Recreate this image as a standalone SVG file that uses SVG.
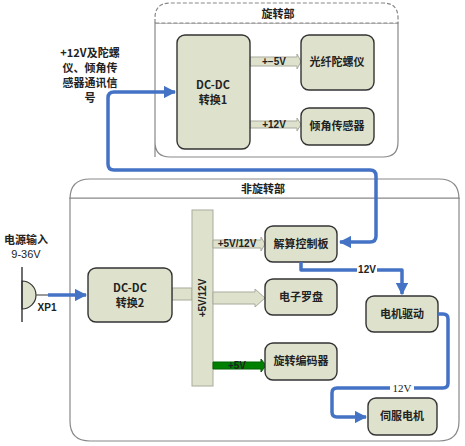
<svg xmlns="http://www.w3.org/2000/svg" width="465" height="446" viewBox="0 0 465 446">
<defs>
<style>
.box{fill:#dee2cd;stroke:#333;stroke-width:1.4}
.band{fill:#dee2cd;stroke:#a8ab9c;stroke-width:1}
.t{font-family:"Noto Sans CJK SC","Liberation Sans",sans-serif;font-size:11px;font-weight:bold;fill:#222;text-anchor:middle}
.s{font-family:"Liberation Sans","Noto Sans CJK SC",sans-serif;font-size:10px;font-weight:bold;fill:#222;text-anchor:middle}
.blue{fill:none;stroke:#4472c4;stroke-width:3.5;stroke-linejoin:round}
.cont{fill:#fff;stroke:#888;stroke-width:1.2}
</style>
<marker id="ah" viewBox="0 0 10 10" refX="9" refY="5" markerWidth="3.5" markerHeight="3.5" orient="auto-start-reverse" markerUnits="strokeWidth">
<path d="M0,0 L10,5 L0,10 z" fill="#4472c4"/>
</marker>
</defs>
<rect width="465" height="446" fill="#fff"/>

<g id="rotating">
<path d="M155,157 L155,23 L398,23 L398,142 Q398,157 383,157 L170,157 Q155,157 155,142 Z" class="cont"/>
<path d="M155,23 L155,18 Q155,3 170,3 L383,3 Q398,3 398,18 L398,23 Z" fill="#fff" stroke="#888" stroke-width="1.2" stroke-dasharray="4,2"/>
<text x="278" y="18" class="t">旋转部</text>
</g>

<g id="nonrotating">
<path d="M70,198 L459,198 L459,421 Q459,441 439,441 L90,441 Q70,441 70,421 Z" class="cont"/>
<path d="M70,198 L70,199 Q70,179 90,179 L439,179 Q459,179 459,199 L459,198 Z" fill="#fff" stroke="#888" stroke-width="1.2"/>
<text x="263" y="193" class="t">非旋转部</text>
</g>

<g id="bands">
<polygon points="250,57 297,57 297,54 301,61.5 297,69 297,66 250,66" class="band"/>
<text x="274" y="65" class="s">+−5V</text>
<polygon points="250,121 297,121 297,118 301,124.5 297,131 297,128 250,128" class="band"/>
<text x="274" y="128" class="s">+12V</text>
<rect x="172" y="288" width="20" height="12" class="band"/>
<rect x="192" y="210" width="21" height="176" class="band"/>
<text x="0" y="0" class="s" transform="translate(206,298) rotate(-90)">+5V/12V</text>
<polygon points="213,240 261,240 261,237 265,244 261,251 261,248 213,248" class="band"/>
<text x="237" y="247" class="s">+5V/12V</text>
<polygon points="213,292 255,292 255,289 265,298 255,307 255,304 213,304" class="band"/>
<polygon points="213,362 261,362 261,359 266,365.5 261,372 261,369 213,369" fill="#008000" stroke="#006000" stroke-width="1"/>
<text x="237" y="369" class="s">+5V</text>
</g>

<g id="dcdc1"><rect x="177" y="35" width="73" height="114" rx="8" class="box"/>
<text x="213" y="89" class="t">DC-DC</text><text x="213" y="104" class="t">转换1</text></g>
<g id="gyro"><rect x="301" y="35" width="73" height="55" rx="8" class="box"/>
<text x="337" y="66" class="t">光纤陀螺仪</text></g>
<g id="tilt"><rect x="301" y="108" width="73" height="37" rx="8" class="box"/>
<text x="337" y="130" class="t">倾角传感器</text></g>

<g id="dcdc2"><rect x="88" y="268" width="84" height="54" rx="8" class="box"/>
<text x="130" y="292" class="t">DC-DC</text><text x="130" y="307" class="t">转换2</text></g>
<g id="solver"><rect x="265" y="226" width="72" height="36" rx="8" class="box"/>
<text x="301" y="248" class="t">解算控制板</text></g>
<g id="compass"><rect x="265" y="279" width="72" height="36" rx="8" class="box"/>
<text x="301" y="301" class="t">电子罗盘</text></g>
<g id="encoder"><rect x="265" y="343" width="72" height="37" rx="8" class="box"/>
<text x="301" y="365" class="t">旋转编码器</text></g>
<g id="driver"><rect x="366" y="296" width="72" height="36" rx="8" class="box"/>
<text x="402" y="318" class="t">电机驱动</text></g>
<g id="servo"><rect x="368" y="398" width="69" height="37" rx="8" class="box"/>
<text x="402" y="420" class="t">伺服电机</text></g>

<g id="xp1">
<path d="M22,281 A14,14 0 0 1 22,309 Z" fill="#dee2cd" stroke="#333" stroke-width="1.2"/>
<line x1="22" y1="267" x2="22" y2="322" stroke="#333" stroke-width="1.4"/>
<line x1="36" y1="295" x2="48" y2="295" stroke="#555" stroke-width="1.2"/>
<text x="47" y="311" class="s">XP1</text>
<text x="26" y="244" class="t">电源输入</text>
<text x="26" y="258" class="s" style="font-weight:normal;font-size:11px">9-36V</text>
</g>

<g id="label-left">
<text x="90" y="57" class="t">+12V及陀螺</text>
<text x="90" y="72" class="t">仪、倾角传</text>
<text x="90" y="87" class="t">感器通讯信</text>
<text x="90" y="102" class="t">号</text>
</g>

<g id="connectors">
<path d="M48,295 L86,295" class="blue" marker-end="url(#ah)"/>
<path d="M340,242 L370,242 Q376,242 376,236 L376,176 Q376,170 370,170 L114,170 Q108,170 108,164 L108,98 Q108,92 114,92 L175,92" class="blue" marker-start="url(#ah)" marker-end="url(#ah)"/>
<path d="M301,262 L301,270 L402,270 L402,294" class="blue" marker-end="url(#ah)"/>
<rect x="357" y="264" width="20" height="10" fill="#fff"/>
<text x="367" y="273" class="s">12V</text>
<path d="M438,314 L443,314 Q448,314 448,319 L448,383 Q448,388 443,388 L337,388 Q332,388 332,393 L332,412 Q332,417 337,417 L366,417" class="blue" marker-end="url(#ah)"/>
<rect x="390" y="382" width="24" height="12" fill="#fff"/>
<text x="402" y="392" style="font-family:'Liberation Serif',serif;font-size:11px;fill:#222;text-anchor:middle">12V</text>
</g>
</svg>
